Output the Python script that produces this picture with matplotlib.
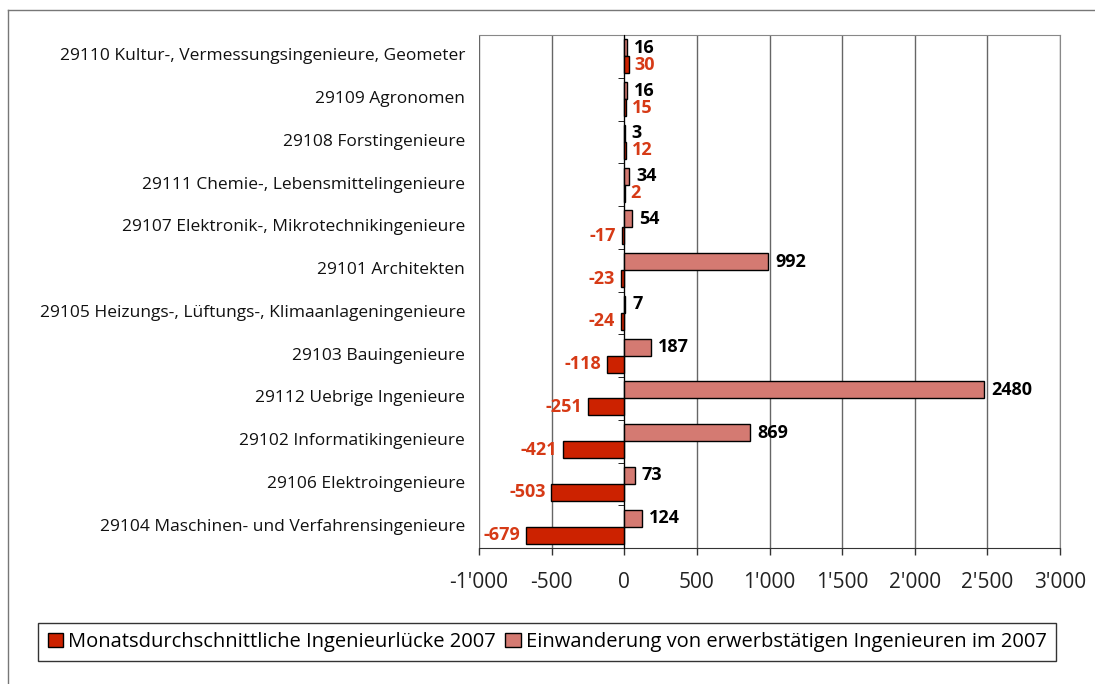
#!/usr/bin/env python3
"""Ingenieurluecke vs. Einwanderung 2007, horizontal grouped bars."""

import matplotlib

matplotlib.use("Agg")
import matplotlib.pyplot as plt
import numpy as np
from matplotlib.lines import Line2D
from matplotlib.ticker import FuncFormatter, MultipleLocator
from matplotlib.transforms import blended_transform_factory

CATEGORIES = [
    "29110 Kultur-, Vermessungsingenieure, Geometer",
    "29109 Agronomen",
    "29108 Forstingenieure",
    "29111 Chemie-, Lebensmittelingenieure",
    "29107 Elektronik-, Mikrotechnikingenieure",
    "29101 Architekten",
    "29105 Heizungs-, Lüftungs-, Klimaanlageningenieure",
    "29103 Bauingenieure",
    "29112 Uebrige Ingenieure",
    "29102 Informatikingenieure",
    "29106 Elektroingenieure",
    "29104 Maschinen- und Verfahrensingenieure",
]
EINWANDERUNG = [16, 16, 3, 34, 54, 992, 7, 187, 2480, 869, 73, 124]
LUECKE = [30, 15, 12, 2, -17, -23, -24, -118, -251, -421, -503, -679]

LABEL_LUECKE = "Monatsdurchschnittliche Ingenieurlücke 2007"
LABEL_EINW = "Einwanderung von erwerbstätigen Ingenieuren im 2007"

COLOR_LUECKE = "#cc2200"
COLOR_EINW = "#d47a72"
TEXT_RED = "#d63a16"

plt.rcParams["font.family"] = ["Open Sans", "DejaVu Sans"]

fig = plt.figure(figsize=(10.95, 6.84), dpi=100)
ax = fig.add_axes([479 / 1095, 1 - 548 / 684, (1060 - 479) / 1095, (548 - 35) / 684])

n = len(CATEGORIES)
y = np.arange(n)
bar_h = 0.4

ax.barh(y - bar_h / 2, EINWANDERUNG, height=bar_h, color=COLOR_EINW,
        edgecolor="black", linewidth=1.0, zorder=3, label=LABEL_EINW)
ax.barh(y + bar_h / 2, LUECKE, height=bar_h, color=COLOR_LUECKE,
        edgecolor="black", linewidth=1.0, zorder=3, label=LABEL_LUECKE)

for yi, val in zip(y, EINWANDERUNG):
    ax.annotate(str(val), (val, yi - bar_h / 2), xytext=(5, 0),
                textcoords="offset points", ha="left", va="center",
                fontsize=13, fontweight="bold", color="black")
for yi, val in zip(y, LUECKE):
    off = 4 if val >= 0 else -4
    ax.annotate(str(val), (val, yi + bar_h / 2), xytext=(off, 0),
                textcoords="offset points", ha="left" if val >= 0 else "right",
                va="center", fontsize=13, fontweight="bold", color=TEXT_RED)

ax.set_xlim(-1000, 3000)
ax.set_ylim(n - 0.5, -0.5)
ax.xaxis.set_major_locator(MultipleLocator(500))
ax.xaxis.set_major_formatter(
    FuncFormatter(lambda v, _: "{:,.0f}".format(v).replace(",", "'"))
)
ax.tick_params(axis="x", labelsize=15, length=5, width=1, direction="out",
               color="#333333", labelcolor="#222222", pad=12)
ax.grid(axis="x", color="#666666", linewidth=1.0, zorder=0)
ax.set_axisbelow(True)

# y axis sits on zero with boundary ticks, labels at plot left
ax.spines["left"].set_position(("data", 0))
ax.spines["left"].set_color("black")
ax.spines["left"].set_zorder(4)
ax.set_yticks([])
ax.set_yticks(np.arange(n + 1) - 0.5, minor=True)
ax.tick_params(axis="y", which="minor", length=4, direction="out", labelleft=False)
for side in ("top", "right"):
    ax.spines[side].set_color("#888888")
ax.spines["bottom"].set_color("#333333")

trans = blended_transform_factory(ax.transAxes, ax.transData)
for yi, cat in zip(y, CATEGORIES):
    ax.text(-0.024, yi, cat, transform=trans, ha="right", va="center",
            fontsize=12.5, color="#111111")

handles, labels = ax.get_legend_handles_labels()
leg = fig.legend(handles[::-1], labels[::-1], loc="center",
                 bbox_to_anchor=(547 / 1095, 1 - 642 / 684), ncol=2,
                 fontsize=14.5, frameon=True, fancybox=False,
                 edgecolor="black", handlelength=0.75, handleheight=0.75,
                 handletextpad=0.25, columnspacing=0.5, borderpad=0.45,
                 borderaxespad=0)
leg.get_frame().set_linewidth(1.0)

# outer chart frame
fig.add_artist(Line2D([8 / 1095, 1], [1 - 10 / 684, 1 - 10 / 684],
                      color="#777777", linewidth=1.0, transform=fig.transFigure))
fig.add_artist(Line2D([8 / 1095, 8 / 1095], [0, 1 - 10 / 684],
                      color="#777777", linewidth=1.0, transform=fig.transFigure))

fig.savefig("out.png", dpi=100, facecolor="white")
